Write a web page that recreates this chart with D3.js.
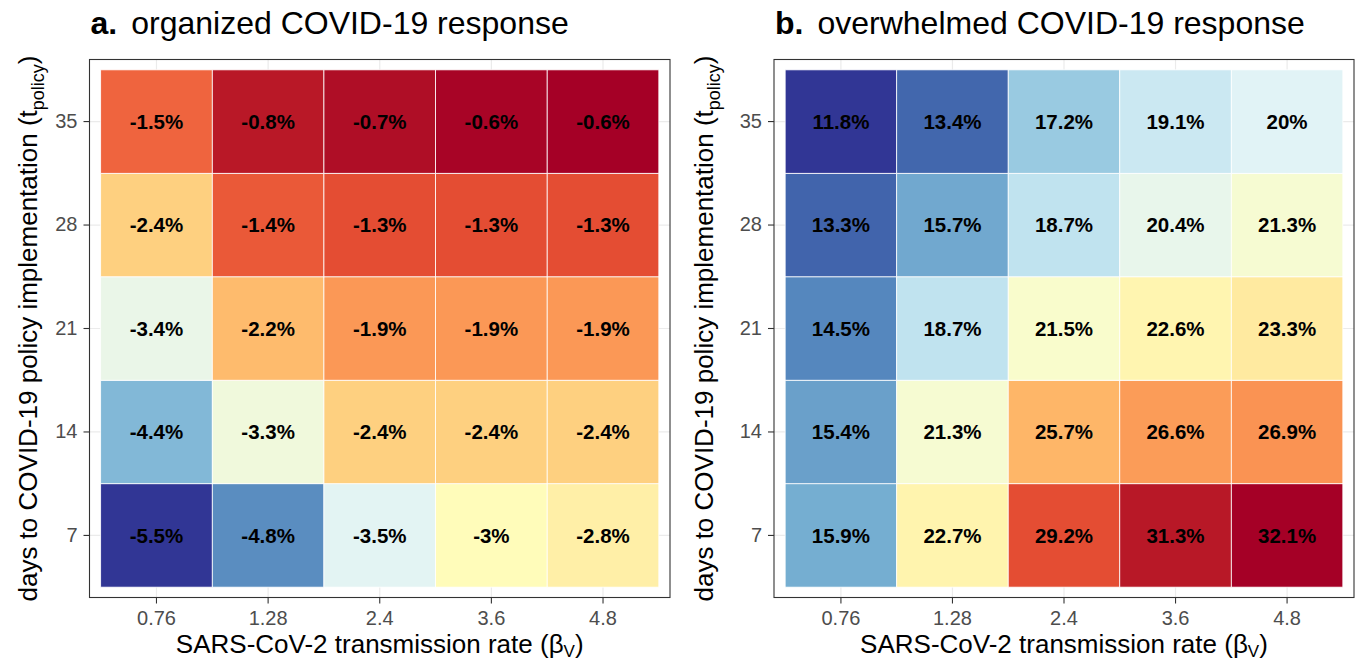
<!DOCTYPE html>
<html>
<head>
<meta charset="utf-8">
<script src="https://cdn.jsdelivr.net/npm/d3@7"></script>
<style>
  html, body { margin: 0; padding: 0; background: #fff; }
  svg { display: block; font-family: "Liberation Sans", Arial, Helvetica, sans-serif; }
</style>
</head>
<body>
<svg id="chart" width="1357" height="661"></svg>
<script>
// ---- data ----
const xLabels = ["0.76", "1.28", "2.4", "3.6", "4.8"];   // SARS-CoV-2 transmission rate
const yLabels = ["7", "14", "21", "28", "35"];           // days to policy implementation

// values per row (t_policy), columns follow xLabels
const organized7  = [-5.5, -4.8, -3.5, -3.0, -2.8];
const organized14 = [-4.4, -3.3, -2.4, -2.4, -2.4];
const organized21 = [-3.4, -2.2, -1.9, -1.9, -1.9];
const organized28 = [-2.4, -1.4, -1.3, -1.3, -1.3];
const organized35 = [-1.5, -0.8, -0.7, -0.63, -0.6];

const overwhelmed7  = [15.9, 22.7, 29.2, 31.3, 32.1];
const overwhelmed14 = [15.4, 21.3, 25.7, 26.6, 26.9];
const overwhelmed21 = [14.5, 18.7, 21.5, 22.6, 23.3];
const overwhelmed28 = [13.3, 15.7, 18.7, 20.4, 21.3];
const overwhelmed35 = [11.8, 13.4, 17.2, 19.1, 20.0];

const panelTitles = [["a.", "organized COVID-19 response"], ["b.", "overwhelmed COVID-19 response"]];
const palette = ["#313695","#4575b4","#74add1","#abd9e9","#e0f3f8","#ffffbf","#fee090","#fdae61","#f46d43","#d73027","#a50026"];

function toCells(rows) {
  const cells = [];
  rows.forEach((row, i) => row.forEach((v, j) => cells.push({ x: xLabels[j], y: yLabels[i], v })));
  return cells;
}
const panels = [
  { title: panelTitles[0], cells: toCells([organized7, organized14, organized21, organized28, organized35]),
    left: 89.5, right: 670, yTitleX: 37 },
  { title: panelTitles[1], cells: toCells([overwhelmed7, overwhelmed14, overwhelmed21, overwhelmed28, overwhelmed35]),
    left: 774, right: 1354, yTitleX: 713 }
];
const panelTop = 59.5, panelBottom = 597.5;

const svg = d3.select("#chart");
const fmt = v => String(+v.toFixed(1)) + "%";

panels.forEach(p => {
  const g = svg.append("g");
  const x = d3.scaleBand().domain(xLabels).range([p.left, p.right]).paddingInner(0).paddingOuter(0.1);
  const y = d3.scaleBand().domain(yLabels).range([panelBottom, panelTop]).paddingInner(0).paddingOuter(0.1);
  const ext = d3.extent(p.cells, d => d.v);
  const color = d3.scaleLinear()
    .domain(palette.map((c, i) => ext[0] + i * (ext[1] - ext[0]) / (palette.length - 1)))
    .range(palette)
    .interpolate(d3.interpolateLab);

  // panel background + grid
  g.append("rect").attr("x", p.left).attr("y", panelTop).attr("width", p.right - p.left).attr("height", panelBottom - panelTop).attr("fill", "#fff");
  g.selectAll(".vgrid").data(xLabels).join("line")
    .attr("x1", d => x(d) + x.bandwidth() / 2).attr("x2", d => x(d) + x.bandwidth() / 2)
    .attr("y1", panelTop).attr("y2", panelBottom).attr("stroke", "#ebebeb").attr("stroke-width", 1.2);
  g.selectAll(".hgrid").data(yLabels).join("line")
    .attr("y1", d => y(d) + y.bandwidth() / 2).attr("y2", d => y(d) + y.bandwidth() / 2)
    .attr("x1", p.left).attr("x2", p.right).attr("stroke", "#ebebeb").attr("stroke-width", 1.2);

  // tiles
  g.selectAll(".tile").data(p.cells).join("rect")
    .attr("x", d => x(d.x)).attr("y", d => y(d.y))
    .attr("width", x.bandwidth()).attr("height", y.bandwidth())
    .attr("fill", d => color(d.v)).attr("stroke", "#fff").attr("stroke-width", 0.8);

  g.selectAll(".lab").data(p.cells).join("text")
    .attr("x", d => x(d.x) + x.bandwidth() / 2).attr("y", d => y(d.y) + y.bandwidth() / 2)
    .attr("dy", "0.36em").attr("text-anchor", "middle")
    .attr("font-size", 20.5).attr("font-weight", "bold").attr("fill", "#000")
    .text(d => fmt(d.v));

  // border
  g.append("rect").attr("x", p.left).attr("y", panelTop).attr("width", p.right - p.left).attr("height", panelBottom - panelTop)
    .attr("fill", "none").attr("stroke", "#333").attr("stroke-width", 1.1);

  // axes
  const ax = g.append("g").attr("transform", `translate(0,${panelBottom})`)
    .call(d3.axisBottom(x).tickSize(6).tickPadding(7));
  const ay = g.append("g").attr("transform", `translate(${p.left},0)`)
    .call(d3.axisLeft(y).tickSize(6).tickPadding(6));
  [ax, ay].forEach(a => {
    a.select(".domain").remove();
    a.selectAll(".tick line").attr("stroke", "#333").attr("stroke-width", 1.1);
    a.selectAll(".tick text").attr("fill", "#4d4d4d").attr("font-size", 20)
      .attr("font-family", "'Liberation Sans', Arial, Helvetica, sans-serif");
  });

  // x title
  const xt = g.append("text").attr("x", (p.left + p.right) / 2).attr("y", 653)
    .attr("text-anchor", "middle").attr("font-size", 26).attr("fill", "#000");
  xt.append("tspan").text("SARS-CoV-2 transmission rate (β");
  xt.append("tspan").attr("font-size", 17).attr("dy", 4).text("V");
  xt.append("tspan").attr("dy", -4).text(")");

  // y title
  const yt = g.append("text")
    .attr("transform", `translate(${p.yTitleX},${(panelTop + panelBottom) / 2}) rotate(-90)`)
    .attr("text-anchor", "middle").attr("font-size", 26).attr("fill", "#000");
  yt.append("tspan").text("days to COVID-19 policy implementation (t");
  yt.append("tspan").attr("font-size", 18).attr("dy", 7).text("policy");
  yt.append("tspan").attr("dy", -7).text(")");

  // panel title
  const tt = g.append("text").attr("x", p.left + 1).attr("y", 34).attr("font-size", 32).attr("fill", "#000");
  tt.append("tspan").attr("font-weight", "bold").text(p.title[0]);
  tt.append("tspan").attr("dx", 14).text(p.title[1]);
});
</script>
</body>
</html>
